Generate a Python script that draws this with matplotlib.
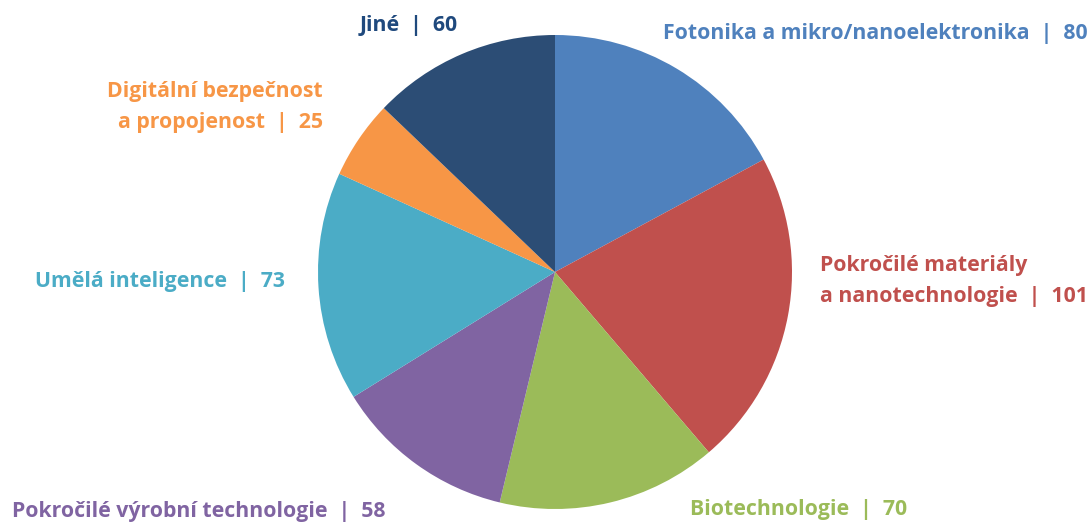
import matplotlib
matplotlib.use('Agg')
import matplotlib.pyplot as plt

# data
labels = ['Fotonika a mikro/nanoelektronika', 'Pokročilé materiály\na nanotechnologie',
          'Biotechnologie', 'Pokročilé výrobní technologie', 'Umělá inteligence',
          'Digitální bezpečnost\na propojenost', 'Jiné']
values = [80, 101, 70, 58, 73, 25, 60]
colors = ['#4F81BD', '#C0504D', '#9BBB59', '#8064A2', '#4BACC6', '#F79646', '#2C4D75']
text_colors = ['#4F81BD', '#C0504D', '#9BBB59', '#8064A2', '#4BACC6', '#F79646', '#1F497D']

plt.rcParams['font.family'] = ['Open Sans', 'DejaVu Sans']

W, H = 1091, 522
cx, cy, r = 555, 272, 237

fig = plt.figure(figsize=(W / 100, H / 100), dpi=100)
ax = fig.add_axes([(cx - r) / W, (H - cy - r) / H, 2 * r / W, 2 * r / H])
ax.pie(values, colors=colors, startangle=90, counterclock=False, radius=1)
ax.set_xlim(-1, 1)
ax.set_ylim(-1, 1)
ax.axis('off')

# label anchors in pixels (x, y, ha)
label_pos = [(1088, 33, 'right'), (1088, 281, 'right'), (690, 510, 'left'),
             (12, 511, 'left'), (35, 282, 'left'), (323, 107, 'right'), (360, 25, 'left')]

for lab, v, c, (px, py, ha) in zip(labels, values, text_colors, label_pos):
    txt = f'{lab}  |  {v}'
    ma = 'left' if v == 101 else ha
    fig.text(px / W, 1 - py / H, txt, ha=ha, va='center', color=c,
             fontsize=15.3, fontweight='bold', linespacing=1.6,
             multialignment=ma)

fig.savefig('out.png', dpi=100)
